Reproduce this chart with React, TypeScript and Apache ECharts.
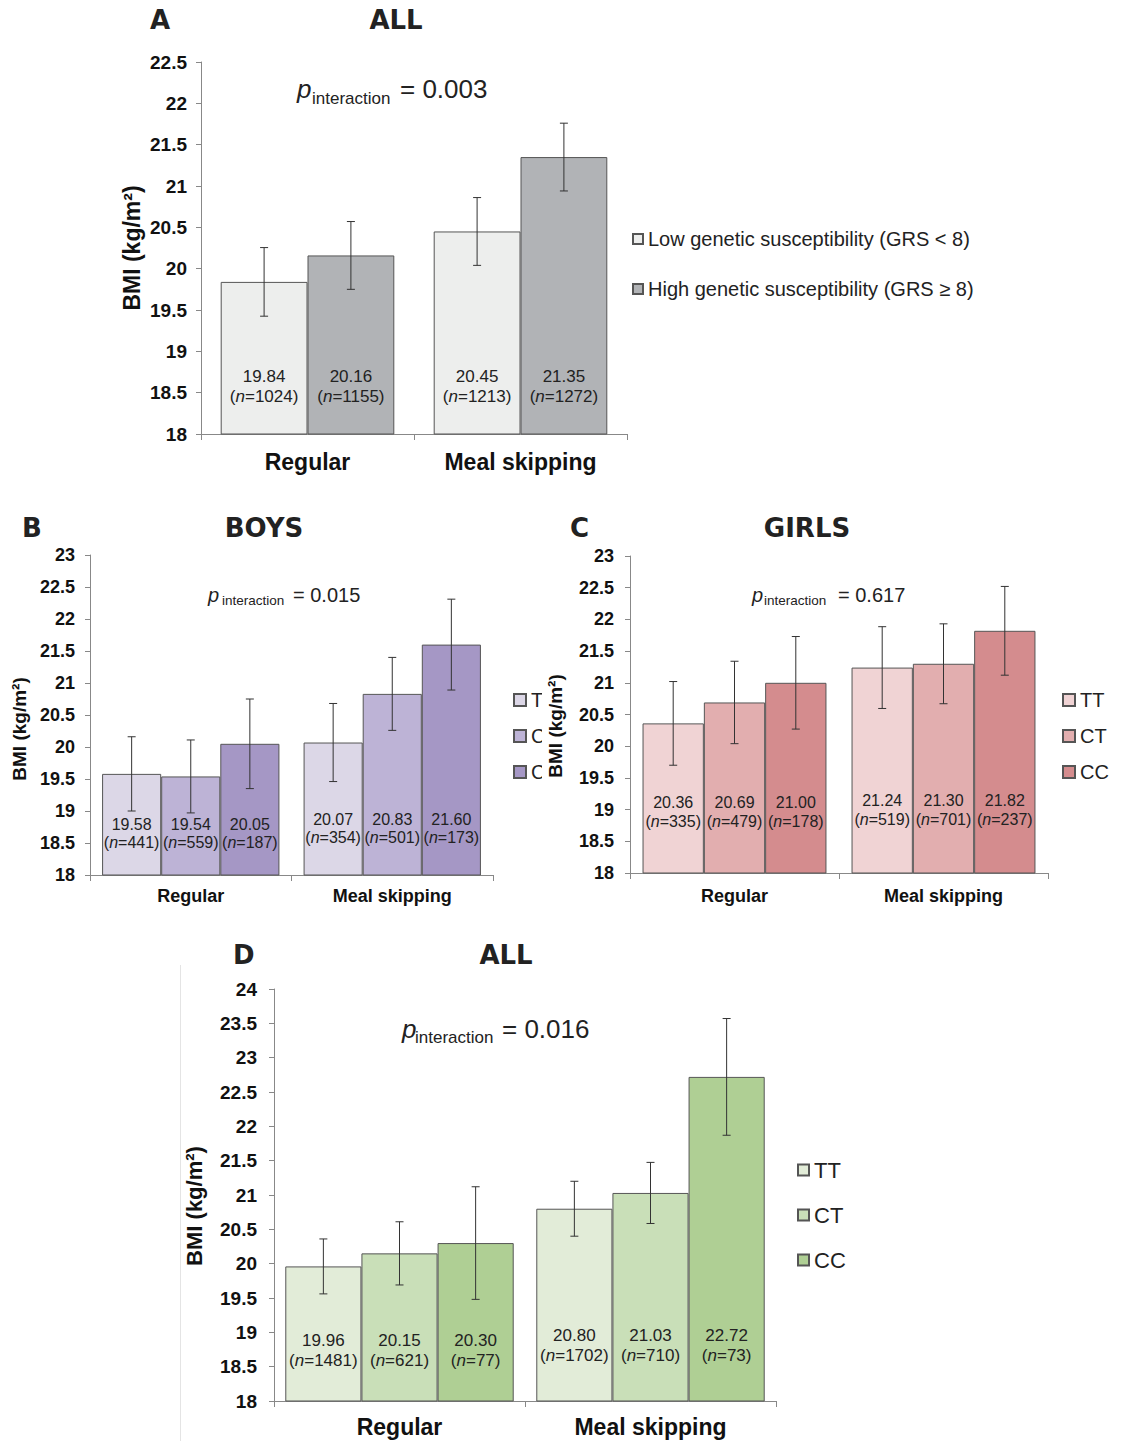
import React, { useEffect, useRef } from 'react';
import * as echarts from 'echarts';

const FONT = '"Liberation Sans", Arial, sans-serif';
const TITLE_FONT = '"DejaVu Sans", Verdana, sans-serif';

// ---------- data ----------
const categories = ['Regular', 'Meal skipping'];
const genotypes = ['TT', 'CT', 'CC'];
const grsGroups = ['Low genetic susceptibility (GRS < 8)', 'High genetic susceptibility (GRS ≥ 8)'];

// Panel A (ALL, GRS)
const aLowMean = [19.84, 20.45];
const aLowErr = [0.415, 0.41];
const aLowN = [1024, 1213];
const aHighMean = [20.16, 21.35];
const aHighErr = [0.41, 0.41];
const aHighN = [1155, 1272];

// Panel B (BOYS)
const bTTMean = [19.58, 20.07];
const bTTErr = [0.58, 0.61];
const bTTN = [441, 354];
const bCTMean = [19.54, 20.83];
const bCTErr = [0.57, 0.57];
const bCTN = [559, 501];
const bCCMean = [20.05, 21.6];
const bCCErr = [0.7, 0.71];
const bCCN = [187, 173];

// Panel C (GIRLS)
const cTTMean = [20.36, 21.24];
const cTTErr = [0.66, 0.645];
const cTTN = [335, 519];
const cCTMean = [20.69, 21.3];
const cCTErr = [0.65, 0.63];
const cCTN = [479, 701];
const cCCMean = [21.0, 21.82];
const cCCErr = [0.73, 0.7];
const cCCN = [178, 237];

// Panel D (ALL, genotype)
const dTTMean = [19.96, 20.8];
const dTTErr = [0.4, 0.4];
const dTTN = [1481, 1702];
const dCTMean = [20.15, 21.03];
const dCTErr = [0.46, 0.445];
const dCTN = [621, 710];
const dCCMean = [20.3, 22.72];
const dCCErr = [0.82, 0.85];
const dCCN = [77, 73];

const pValues = ['0.003', '0.015', '0.617', '0.016'];
const Y_NAME = 'BMI (kg/m²)';

// ---------- helpers ----------
type Group = { name: string; color: string; mean: number[]; err: number[]; n: number[] };

type PanelCfg = {
  groups: Group[];
  yMin: number;
  yMax: number;
  grid: { left: number; top: number; width: number; height: number };
  gap: number;
  tickFont: number;
  tickMargin: number;
  catFont: number;
  catMargin: number;
  yName: { x: number; y: number; size: number };
  labelFont: number;
  labelLH: number;
  labelDist: number[];
  cap: number;
  legend: { left: number; top: number; font: number; gap: number; icon: number };
  letter: { text: string; x: number; y: number };
  title: { text: string; x: number; y: number };
  p: { x: number; y: number; size: number; subX: number; subY: number; subSize: number; eqX: number; value: string };
  extra?: any[];
};

function buildOption(p: PanelCfg) {
  const n = p.groups.length;
  const barSeries = p.groups.map((g) => ({
    type: 'bar',
    name: g.name,
    barGap: '0%',
    barCategoryGap: `${p.gap * 100}%`,
    itemStyle: { color: g.color, borderColor: '#555', borderWidth: 1 },
    data: g.mean.map((v, j) => ({ value: v, label: { distance: p.labelDist[j] } })),
    label: {
      show: true,
      position: 'insideBottom',
      formatter: (prm: any) =>
        `{v|${g.mean[prm.dataIndex].toFixed(2)}}\n{t|(}{i|n}{t|=${g.n[prm.dataIndex]})}`,
      rich: {
        v: { fontFamily: FONT, fontSize: p.labelFont, lineHeight: p.labelLH, color: '#222' },
        t: { fontFamily: FONT, fontSize: p.labelFont, lineHeight: p.labelLH, color: '#222' },
        i: { fontFamily: FONT, fontSize: p.labelFont, lineHeight: p.labelLH, color: '#222', fontStyle: 'italic' },
      },
    },
    z: 2,
  }));

  const errData: number[][] = [];
  p.groups.forEach((g, si) => {
    g.mean.forEach((m, ci) => {
      errData.push([ci, m - g.err[ci], m + g.err[ci], si]);
    });
  });

  const errSeries = {
    type: 'custom',
    name: 'err',
    z: 5,
    encode: { x: 0, y: [1, 2] },
    data: errData,
    renderItem: (_params: any, api: any) => {
      const ci = api.value(0);
      const lo = api.value(1);
      const hi = api.value(2);
      const si = api.value(3);
      const band = api.size([1, 0])[0];
      const bw = (band * (1 - p.gap)) / n;
      const b = api.coord([ci, lo]);
      const t = api.coord([ci, hi]);
      const x = b[0] + (si - (n - 1) / 2) * bw;
      const style = { stroke: '#333', lineWidth: 1 };
      return {
        type: 'group',
        children: [
          { type: 'line', shape: { x1: x, y1: t[1], x2: x, y2: b[1] }, style },
          { type: 'line', shape: { x1: x - p.cap, y1: t[1], x2: x + p.cap, y2: t[1] }, style },
          { type: 'line', shape: { x1: x - p.cap, y1: b[1], x2: x + p.cap, y2: b[1] }, style },
        ],
      };
    },
  };

  const graphic: any[] = [
    {
      type: 'text',
      x: p.letter.x,
      y: p.letter.y,
      style: { text: p.letter.text, font: `bold 26px ${TITLE_FONT}`, fill: '#222', align: 'left', verticalAlign: 'middle' },
    },
    {
      type: 'text',
      x: p.title.x,
      y: p.title.y,
      style: { text: p.title.text, font: `bold 26px ${TITLE_FONT}`, fill: '#222', align: 'center', verticalAlign: 'middle' },
    },
    {
      type: 'text',
      x: p.yName.x,
      y: p.yName.y,
      rotation: Math.PI / 2,
      style: { text: Y_NAME, font: `bold ${p.yName.size}px ${FONT}`, fill: '#111', align: 'center', verticalAlign: 'middle' },
    },
    {
      type: 'text',
      x: p.p.x,
      y: p.p.y,
      style: { text: 'p', font: `italic ${p.p.size}px ${FONT}`, fill: '#222', align: 'left', verticalAlign: 'middle' },
    },
    {
      type: 'text',
      x: p.p.subX,
      y: p.p.subY,
      style: { text: 'interaction', font: `${p.p.subSize}px ${FONT}`, fill: '#222', align: 'left', verticalAlign: 'middle' },
    },
    {
      type: 'text',
      x: p.p.eqX,
      y: p.p.y,
      style: { text: `= ${p.p.value}`, font: `${p.p.size}px ${FONT}`, fill: '#222', align: 'left', verticalAlign: 'middle' },
    },
    ...(p.extra || []),
  ];

  return {
    animation: false,
    backgroundColor: '#ffffff',
    grid: { ...p.grid, containLabel: false },
    legend: {
      orient: 'vertical',
      left: p.legend.left,
      top: p.legend.top,
      padding: 0,
      itemGap: p.legend.gap,
      itemWidth: p.legend.icon,
      itemHeight: p.legend.icon,
      icon: 'rect',
      data: p.groups.map((g) => g.name),
      textStyle: { fontFamily: FONT, fontSize: p.legend.font, color: '#222' },
      selectedMode: false,
    },
    xAxis: {
      type: 'category',
      data: categories,
      axisLine: { lineStyle: { color: '#888', width: 1 } },
      axisTick: { show: true, length: 6, lineStyle: { color: '#888' } },
      axisLabel: {
        fontFamily: FONT,
        fontWeight: 'bold',
        fontSize: p.catFont,
        color: '#111',
        margin: p.catMargin,
      },
    },
    yAxis: {
      type: 'value',
      min: p.yMin,
      max: p.yMax,
      interval: 0.5,
      splitLine: { show: false },
      axisLine: { show: true, lineStyle: { color: '#888', width: 1 } },
      axisTick: { show: true, length: 5, lineStyle: { color: '#888' } },
      axisLabel: {
        fontFamily: FONT,
        fontWeight: 'bold',
        fontSize: p.tickFont,
        color: '#111',
        margin: p.tickMargin,
      },
    },
    series: [...barSeries, errSeries],
    graphic,
  };
}

const panelA: PanelCfg = {
  groups: [
    { name: grsGroups[0], color: '#edeeed', mean: aLowMean, err: aLowErr, n: aLowN },
    { name: grsGroups[1], color: '#b1b3b6', mean: aHighMean, err: aHighErr, n: aHighN },
  ],
  yMin: 18,
  yMax: 22.5,
  grid: { left: 201, top: 62, width: 426, height: 372 },
  gap: 0.185,
  tickFont: 19,
  tickMargin: 14,
  catFont: 23,
  catMargin: 16,
  yName: { x: 132, y: 248, size: 23 },
  labelFont: 17,
  labelLH: 20,
  labelDist: [28, 28],
  cap: 4,
  legend: { left: 632, top: 229, font: 20, gap: 30, icon: 10 },
  letter: { text: 'A', x: 150, y: 20 },
  title: { text: 'ALL', x: 396, y: 20 },
  p: { x: 297, y: 89, size: 26, subX: 312, subY: 98, subSize: 17, eqX: 400, value: pValues[0] },
};

const panelB: PanelCfg = {
  groups: [
    { name: genotypes[0], color: '#dcd7e7', mean: bTTMean, err: bTTErr, n: bTTN },
    { name: genotypes[1], color: '#bdb3d6', mean: bCTMean, err: bCTErr, n: bCTN },
    { name: genotypes[2], color: '#a597c5', mean: bCCMean, err: bCCErr, n: bCCN },
  ],
  yMin: 18,
  yMax: 23,
  grid: { left: 90, top: 60, width: 403, height: 320 },
  gap: 0.12,
  tickFont: 18,
  tickMargin: 15,
  catFont: 18,
  catMargin: 12,
  yName: { x: 19, y: 234, size: 19 },
  labelFont: 16,
  labelLH: 18,
  labelDist: [24, 29],
  cap: 4,
  legend: { left: 513, top: 195, font: 20, gap: 16, icon: 12 },
  letter: { text: 'B', x: 22, y: 33 },
  title: { text: 'BOYS', x: 264, y: 33 },
  p: { x: 208, y: 100, size: 20, subX: 222, subY: 105, subSize: 13.5, eqX: 293, value: pValues[1] },
};

const panelC: PanelCfg = {
  groups: [
    { name: genotypes[0], color: '#f0d3d4', mean: cTTMean, err: cTTErr, n: cTTN },
    { name: genotypes[1], color: '#e2aeaf', mean: cCTMean, err: cCTErr, n: cCTN },
    { name: genotypes[2], color: '#d48c8e', mean: cCCMean, err: cCCErr, n: cCCN },
  ],
  yMin: 18,
  yMax: 23,
  grid: { left: 88, top: 61, width: 418, height: 317 },
  gap: 0.12,
  tickFont: 18,
  tickMargin: 16,
  catFont: 18,
  catMargin: 14,
  yName: { x: 13, y: 231, size: 19 },
  labelFont: 16,
  labelLH: 19,
  labelDist: [43, 45],
  cap: 4,
  legend: { left: 520, top: 195, font: 20, gap: 16, icon: 12 },
  letter: { text: 'C', x: 28, y: 33 },
  title: { text: 'GIRLS', x: 265, y: 33 },
  p: { x: 210, y: 100, size: 20, subX: 222, subY: 105, subSize: 13.5, eqX: 296, value: pValues[2] },
};

const panelD: PanelCfg = {
  groups: [
    { name: genotypes[0], color: '#e2ecd8', mean: dTTMean, err: dTTErr, n: dTTN },
    { name: genotypes[1], color: '#c9dfb8', mean: dCTMean, err: dCTErr, n: dCTN },
    { name: genotypes[2], color: '#afcf94', mean: dCCMean, err: dCCErr, n: dCCN },
  ],
  yMin: 18,
  yMax: 24,
  grid: { left: 274, top: 59, width: 502, height: 412 },
  gap: 0.09,
  tickFont: 19,
  tickMargin: 17,
  catFont: 23,
  catMargin: 14,
  yName: { x: 194, y: 276, size: 22 },
  labelFont: 17,
  labelLH: 20,
  labelDist: [31, 36],
  cap: 4,
  legend: { left: 797, top: 229, font: 22, gap: 23, icon: 11 },
  letter: { text: 'D', x: 233, y: 25 },
  title: { text: 'ALL', x: 506, y: 25 },
  p: { x: 402, y: 99, size: 26, subX: 415, subY: 107, subSize: 17, eqX: 502, value: pValues[3] },
  extra: [
    { type: 'line', shape: { x1: 180.5, y1: 35, x2: 180.5, y2: 511 }, style: { stroke: '#e4e4e4', lineWidth: 1 } },
  ],
};

function Chart({ cfg, style }: { cfg: PanelCfg; style: React.CSSProperties }) {
  const ref = useRef<HTMLDivElement>(null);
  useEffect(() => {
    if (!ref.current) return;
    const chart = echarts.init(ref.current, null, { renderer: 'svg' });
    chart.setOption(buildOption(cfg) as any);
    return () => chart.dispose();
  }, [cfg]);
  return <div ref={ref} style={{ position: 'absolute', overflow: 'hidden', background: '#fff', ...style }} />;
}

export default function App() {
  return (
    <div style={{ position: 'absolute', left: 0, top: 0, width: 1125, height: 1441, background: '#fff' }}>
      <Chart cfg={panelA} style={{ left: 0, top: 0, width: 1125, height: 490 }} />
      <Chart cfg={panelB} style={{ left: 0, top: 495, width: 542, height: 430 }} />
      <Chart cfg={panelC} style={{ left: 542, top: 495, width: 583, height: 430 }} />
      <Chart cfg={panelD} style={{ left: 0, top: 930, width: 1125, height: 511 }} />
    </div>
  );
}
